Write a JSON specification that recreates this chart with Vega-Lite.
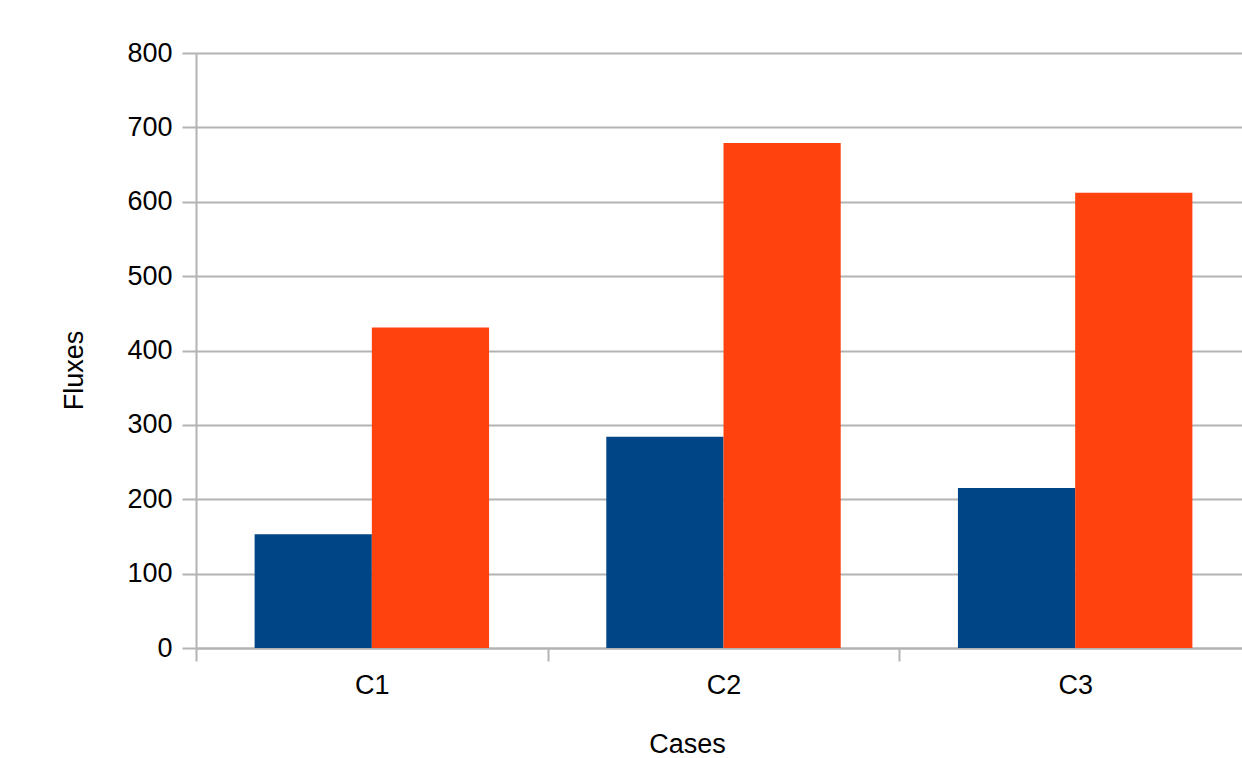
{
  "$schema": "https://vega.github.io/schema/vega-lite/v6.json",
  "autosize": {"type": "none"},
  "width": 1046,
  "height": 595,
  "padding": {"left": 196, "top": 53, "right": 0, "bottom": 110},
  "background": "white",
  "config": {
    "view": {"stroke": null},
    "font": "Liberation Sans",
    "axis": {
      "labelFont": "Liberation Sans",
      "titleFont": "Liberation Sans",
      "labelFontSize": 27,
      "titleFontSize": 27,
      "titleFontWeight": "normal",
      "labelColor": "#000000",
      "titleColor": "#000000",
      "domainColor": "#b3b3b3",
      "tickColor": "#b3b3b3",
      "gridColor": "#b3b3b3",
      "domainWidth": 2,
      "tickWidth": 2,
      "gridWidth": 2
    }
  },
  "data": {
    "values": [
      {"case": "C1", "series": "A", "value": 153},
      {"case": "C1", "series": "B", "value": 431},
      {"case": "C2", "series": "A", "value": 284},
      {"case": "C2", "series": "B", "value": 679},
      {"case": "C3", "series": "A", "value": 215},
      {"case": "C3", "series": "B", "value": 612}
    ]
  },
  "mark": {"type": "bar"},
  "encoding": {
    "x": {
      "field": "case",
      "type": "nominal",
      "scale": {"paddingInner": 0, "paddingOuter": 0, "range": [0, 1055]},
      "axis": {
        "title": "Cases",
        "labelAngle": 0,
        "tickBand": "extent",
        "tickSize": 13,
        "labelPadding": 11,
        "grid": false,
        "titleX": 491,
        "titleY": 104,
        "titleAlign": "center",
        "titleBaseline": "alphabetic"
      }
    },
    "xOffset": {
      "field": "series",
      "type": "nominal",
      "scale": {"paddingInner": 0, "paddingOuter": 0.5}
    },
    "y": {
      "field": "value",
      "type": "quantitative",
      "scale": {"domain": [0, 800], "nice": false},
      "axis": {
        "title": "Fluxes",
        "values": [0, 100, 200, 300, 400, 500, 600, 700, 800],
        "tickSize": 14,
        "labelPadding": 10,
        "grid": true,
        "titleAngle": 270,
        "titleX": -114,
        "titleY": 317,
        "titleAlign": "center",
        "titleBaseline": "alphabetic"
      }
    },
    "color": {
      "field": "series",
      "type": "nominal",
      "scale": {"domain": ["A", "B"], "range": ["#004586", "#ff420e"]},
      "legend": null
    }
  }
}
